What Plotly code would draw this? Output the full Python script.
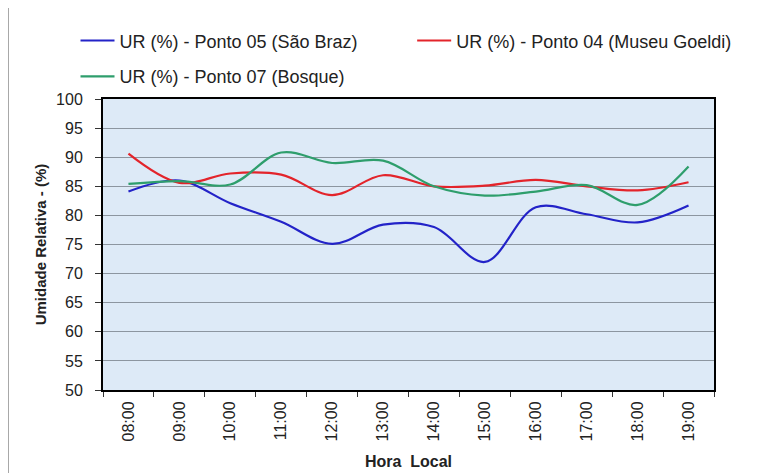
import plotly.graph_objects as go

horas = ["08:00", "09:00", "10:00", "11:00", "12:00", "13:00",
         "14:00", "15:00", "16:00", "17:00", "18:00", "19:00"]
ponto05 = [84.1, 86.0, 82.1, 78.9, 75.1, 78.4, 78.0, 72.0, 81.4, 80.2, 78.8, 81.7]
ponto04 = [90.6, 85.6, 87.2, 87.0, 83.5, 86.9, 85.0, 85.1, 86.1, 85.0, 84.3, 85.7]
ponto07 = [85.4, 85.9, 85.3, 90.8, 89.0, 89.4, 85.0, 83.4, 84.1, 85.2, 81.8, 88.4]

nomes = ["UR (%) - Ponto 05 (São Braz)",
         "UR (%) - Ponto 04 (Museu Goeldi)",
         "UR (%) - Ponto 07 (Bosque)"]
cores = ["#2323C8", "#E3242B", "#2E9E6C"]

FONT = "Liberation Sans, Arial, sans-serif"

fig = go.Figure()
for serie, nome, cor, leg in zip([ponto05, ponto04, ponto07], nomes, cores,
                                 ["legend", "legend2", "legend3"]):
    fig.add_trace(go.Scatter(
        x=horas, y=serie, name=nome, mode="lines",
        line=dict(color=cor, width=2.2, shape="spline", smoothing=1.0),
        legend=leg,
    ))

legfont = dict(family=FONT, size=18, color="#222222")
common = dict(xanchor="left", yanchor="middle", bgcolor="rgba(0,0,0,0)",
              font=legfont, itemwidth=34)

# the page body adds an 8px offset, so margins are shifted to compensate
fig.update_layout(
    width=777, height=473,
    margin=dict(l=95, r=71, t=91, b=91, autoexpand=False),
    paper_bgcolor="white",
    plot_bgcolor="#DDEAF7",
    font=dict(family=FONT, size=14, color="#222222"),
    showlegend=True,
    legend=dict(x=-0.045, y=1.2, **common),
    legend2=dict(x=0.506, y=1.2, **common),
    legend3=dict(x=-0.045, y=1.077, **common),
    xaxis=dict(
        type="category", tickangle=-90, showgrid=False, range=[-0.5, 11.5],
        automargin=False,
        ticks="outside", tickson="boundaries", ticklen=5, tickcolor="#333333",
        ticklabelstandoff=3,
        showline=True, linecolor="black", linewidth=2, mirror=True,
        title=dict(text="<b>Hora  Local</b>", font=dict(family=FONT, size=16), standoff=15),
        tickfont=dict(family=FONT, size=16, color="#222222"),
    ),
    yaxis=dict(
        range=[50, 100], dtick=5, tick0=50,
        automargin=False,
        showgrid=True, gridcolor="#8C96A0", gridwidth=1,
        ticks="outside", ticklen=6, tickcolor="#333333",
        ticklabelstandoff=9,
        showline=True, linecolor="black", linewidth=2, mirror=True,
        title=dict(text="<b>Umidade Relativa - (%)</b>", font=dict(family=FONT, size=15), standoff=6),
        tickfont=dict(family=FONT, size=16, color="#222222"),
    ),
    shapes=[dict(type="rect", xref="paper", yref="paper",
                 x0=-0.1555, x1=1.3, y0=-0.6, y1=1.316,
                 line=dict(color="#A8A8A8", width=2), layer="below")],
)

fig.write_html("out.html")
